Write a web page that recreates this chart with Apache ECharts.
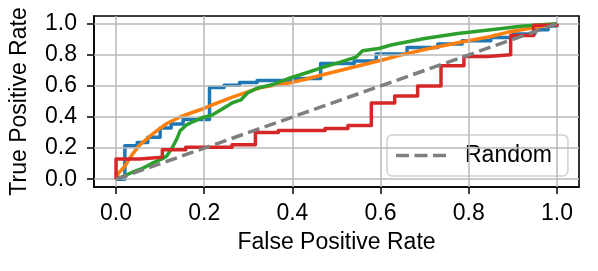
<!DOCTYPE html>
<html>
<head>
<meta charset="utf-8">
<script src="https://cdn.jsdelivr.net/npm/echarts@6/dist/echarts.min.js"></script>
<style>html,body{margin:0;padding:0;background:#fff}#c{width:598px;height:271px}</style>
</head>
<body>
<div id="c"></div>
<script>
var xTicks = [0, 0.2, 0.4, 0.6, 0.8, 1.0];
var yTicks = [0, 0.2, 0.4, 0.6, 0.8, 1.0];

var blueRoc = [[0,0],[0.02,0],[0.02,0.215],[0.048,0.215],[0.048,0.237],[0.072,0.237],[0.072,0.27],[0.1,0.27],[0.1,0.33],[0.125,0.33],[0.125,0.355],[0.152,0.355],[0.152,0.385],[0.212,0.385],[0.212,0.59],[0.245,0.59],[0.245,0.605],[0.28,0.605],[0.28,0.622],[0.32,0.622],[0.32,0.635],[0.4,0.635],[0.4,0.648],[0.464,0.648],[0.464,0.745],[0.54,0.745],[0.54,0.76],[0.59,0.76],[0.59,0.805],[0.66,0.805],[0.66,0.848],[0.73,0.848],[0.73,0.87],[0.785,0.87],[0.785,0.89],[0.85,0.89],[0.85,0.912],[0.9,0.912],[0.9,0.935],[0.95,0.935],[0.95,0.962],[0.98,0.962],[0.98,0.985],[1,0.985],[1,1]];

var orangeRoc = [[0,0],[0.006,0.04],[0.019,0.08],[0.03,0.13],[0.037,0.16],[0.052,0.215],[0.064,0.245],[0.074,0.27],[0.089,0.305],[0.116,0.36],[0.149,0.405],[0.194,0.45],[0.224,0.485],[0.261,0.525],[0.3,0.563],[0.328,0.59],[0.395,0.621],[0.425,0.64],[0.469,0.672],[0.544,0.725],[0.604,0.767],[0.648,0.8],[0.7,0.835],[0.775,0.878],[0.85,0.918],[0.887,0.945],[0.946,0.975],[1,1]];

var greenRoc = [[0,0],[0.01,0.01],[0.037,0.045],[0.06,0.07],[0.08,0.1],[0.104,0.13],[0.115,0.15],[0.127,0.2],[0.138,0.26],[0.145,0.31],[0.16,0.35],[0.171,0.365],[0.194,0.395],[0.216,0.41],[0.239,0.449],[0.264,0.492],[0.283,0.51],[0.298,0.555],[0.32,0.585],[0.358,0.612],[0.395,0.652],[0.432,0.685],[0.469,0.72],[0.507,0.752],[0.544,0.785],[0.559,0.826],[0.596,0.841],[0.626,0.865],[0.7,0.905],[0.775,0.938],[0.85,0.962],[0.924,0.985],[1,1]];

var redRoc = [[0,0],[0,0.13],[0.053,0.13],[0.053,0.142],[0.105,0.142],[0.105,0.19],[0.158,0.19],[0.158,0.205],[0.263,0.205],[0.263,0.222],[0.316,0.222],[0.316,0.3],[0.368,0.3],[0.368,0.313],[0.474,0.313],[0.474,0.326],[0.526,0.326],[0.526,0.345],[0.579,0.345],[0.579,0.49],[0.632,0.49],[0.632,0.535],[0.684,0.535],[0.684,0.6],[0.737,0.6],[0.737,0.73],[0.789,0.73],[0.789,0.79],[0.842,0.79],[0.842,0.8],[0.895,0.8],[0.895,0.925],[0.947,0.925],[0.947,0.99],[1,0.99],[1,1]];

var randomLine = [[0,0],[1,1]];

var FONT = '"Liberation Sans", Arial, sans-serif';
var FS = 23;
var LW = 3.5;
var chart = echarts.init(document.getElementById('c'), null, {renderer: 'canvas'});

function fmt(v){ return v.toFixed(1); }

var gridLines = xTicks.map(function(v){return {xAxis: v};}).concat(yTicks.map(function(v){return {yAxis: v};}));

function curve(name, data, color, z){
  return {
    name: name, type: 'line', data: data, symbol: 'none', showSymbol: false, z: z,
    lineStyle: {color: color, width: LW, join: 'round'}, itemStyle: {color: color}
  };
}

chart.setOption({
  animation: false,
  grid: {left: 88, right: 19, top: 16, bottom: 84, show: true, borderColor: '#000', borderWidth: 1.6, backgroundColor: 'transparent'},
  xAxis: {
    type: 'value', min: -0.05, max: 1.05,
    name: 'False Positive Rate', nameLocation: 'middle', nameGap: 44,
    nameTextStyle: {fontFamily: FONT, fontSize: FS, color: '#000'},
    axisLine: {show: true, onZero: false, lineStyle: {color: '#000', width: 1.6}},
    axisTick: {show: true, length: 7, customValues: xTicks, lineStyle: {color: '#000', width: 1.5}},
    axisLabel: {customValues: xTicks, formatter: fmt, margin: 15, fontFamily: FONT, fontSize: FS, color: '#000'},
    splitLine: {show: false}
  },
  yAxis: {
    type: 'value', min: -0.05, max: 1.05,
    name: 'True Positive Rate', nameLocation: 'middle', nameGap: 63,
    nameTextStyle: {fontFamily: FONT, fontSize: FS, color: '#000'},
    axisLine: {show: true, onZero: false, lineStyle: {color: '#000', width: 1.6}},
    axisTick: {show: true, length: 7, customValues: yTicks, lineStyle: {color: '#000', width: 1.5}},
    axisLabel: {customValues: yTicks, formatter: fmt, margin: 17, fontFamily: FONT, fontSize: FS, color: '#000'},
    splitLine: {show: false}
  },
  legend: {
    data: [{name: 'Random', icon: 'path://M0,0h13v3.3h-13z M18.5,0h13v3.3h-13z M37,0h13v3.3h-13z'}],
    left: 387, top: 135, orient: 'vertical',
    itemWidth: 50, itemHeight: 3.3, padding: [9, 16, 9, 9],
    backgroundColor: 'rgba(255,255,255,0.8)', borderColor: '#d0d0d0', borderWidth: 1.5, borderRadius: 5,
    itemStyle: {color: '#7f7f7f', borderWidth: 0},
    textStyle: {fontFamily: FONT, fontSize: FS, color: '#000', padding: [0, 0, 0, 14]}
  },
  series: [
    {name: 'grid', type: 'line', data: [], z: 1, silent: true,
     markLine: {silent: true, symbol: 'none', label: {show: false}, animation: false,
       lineStyle: {color: '#b8b8b8', width: 1.5, type: 'solid'}, emphasis: {disabled: true}, data: gridLines}},
    curve('Model A', blueRoc, '#1f77b4', 3),
    curve('Model B', orangeRoc, '#ff7f0e', 4),
    curve('Model C', greenRoc, '#2ca02c', 5),
    curve('Model D', redRoc, '#d62728', 6),
    {name: 'Random', type: 'line', data: randomLine, symbol: 'none', z: 7,
     lineStyle: {color: '#7f7f7f', width: LW, type: [12, 5.5]}, itemStyle: {color: '#7f7f7f'}}
  ]
});
</script>
</body>
</html>
